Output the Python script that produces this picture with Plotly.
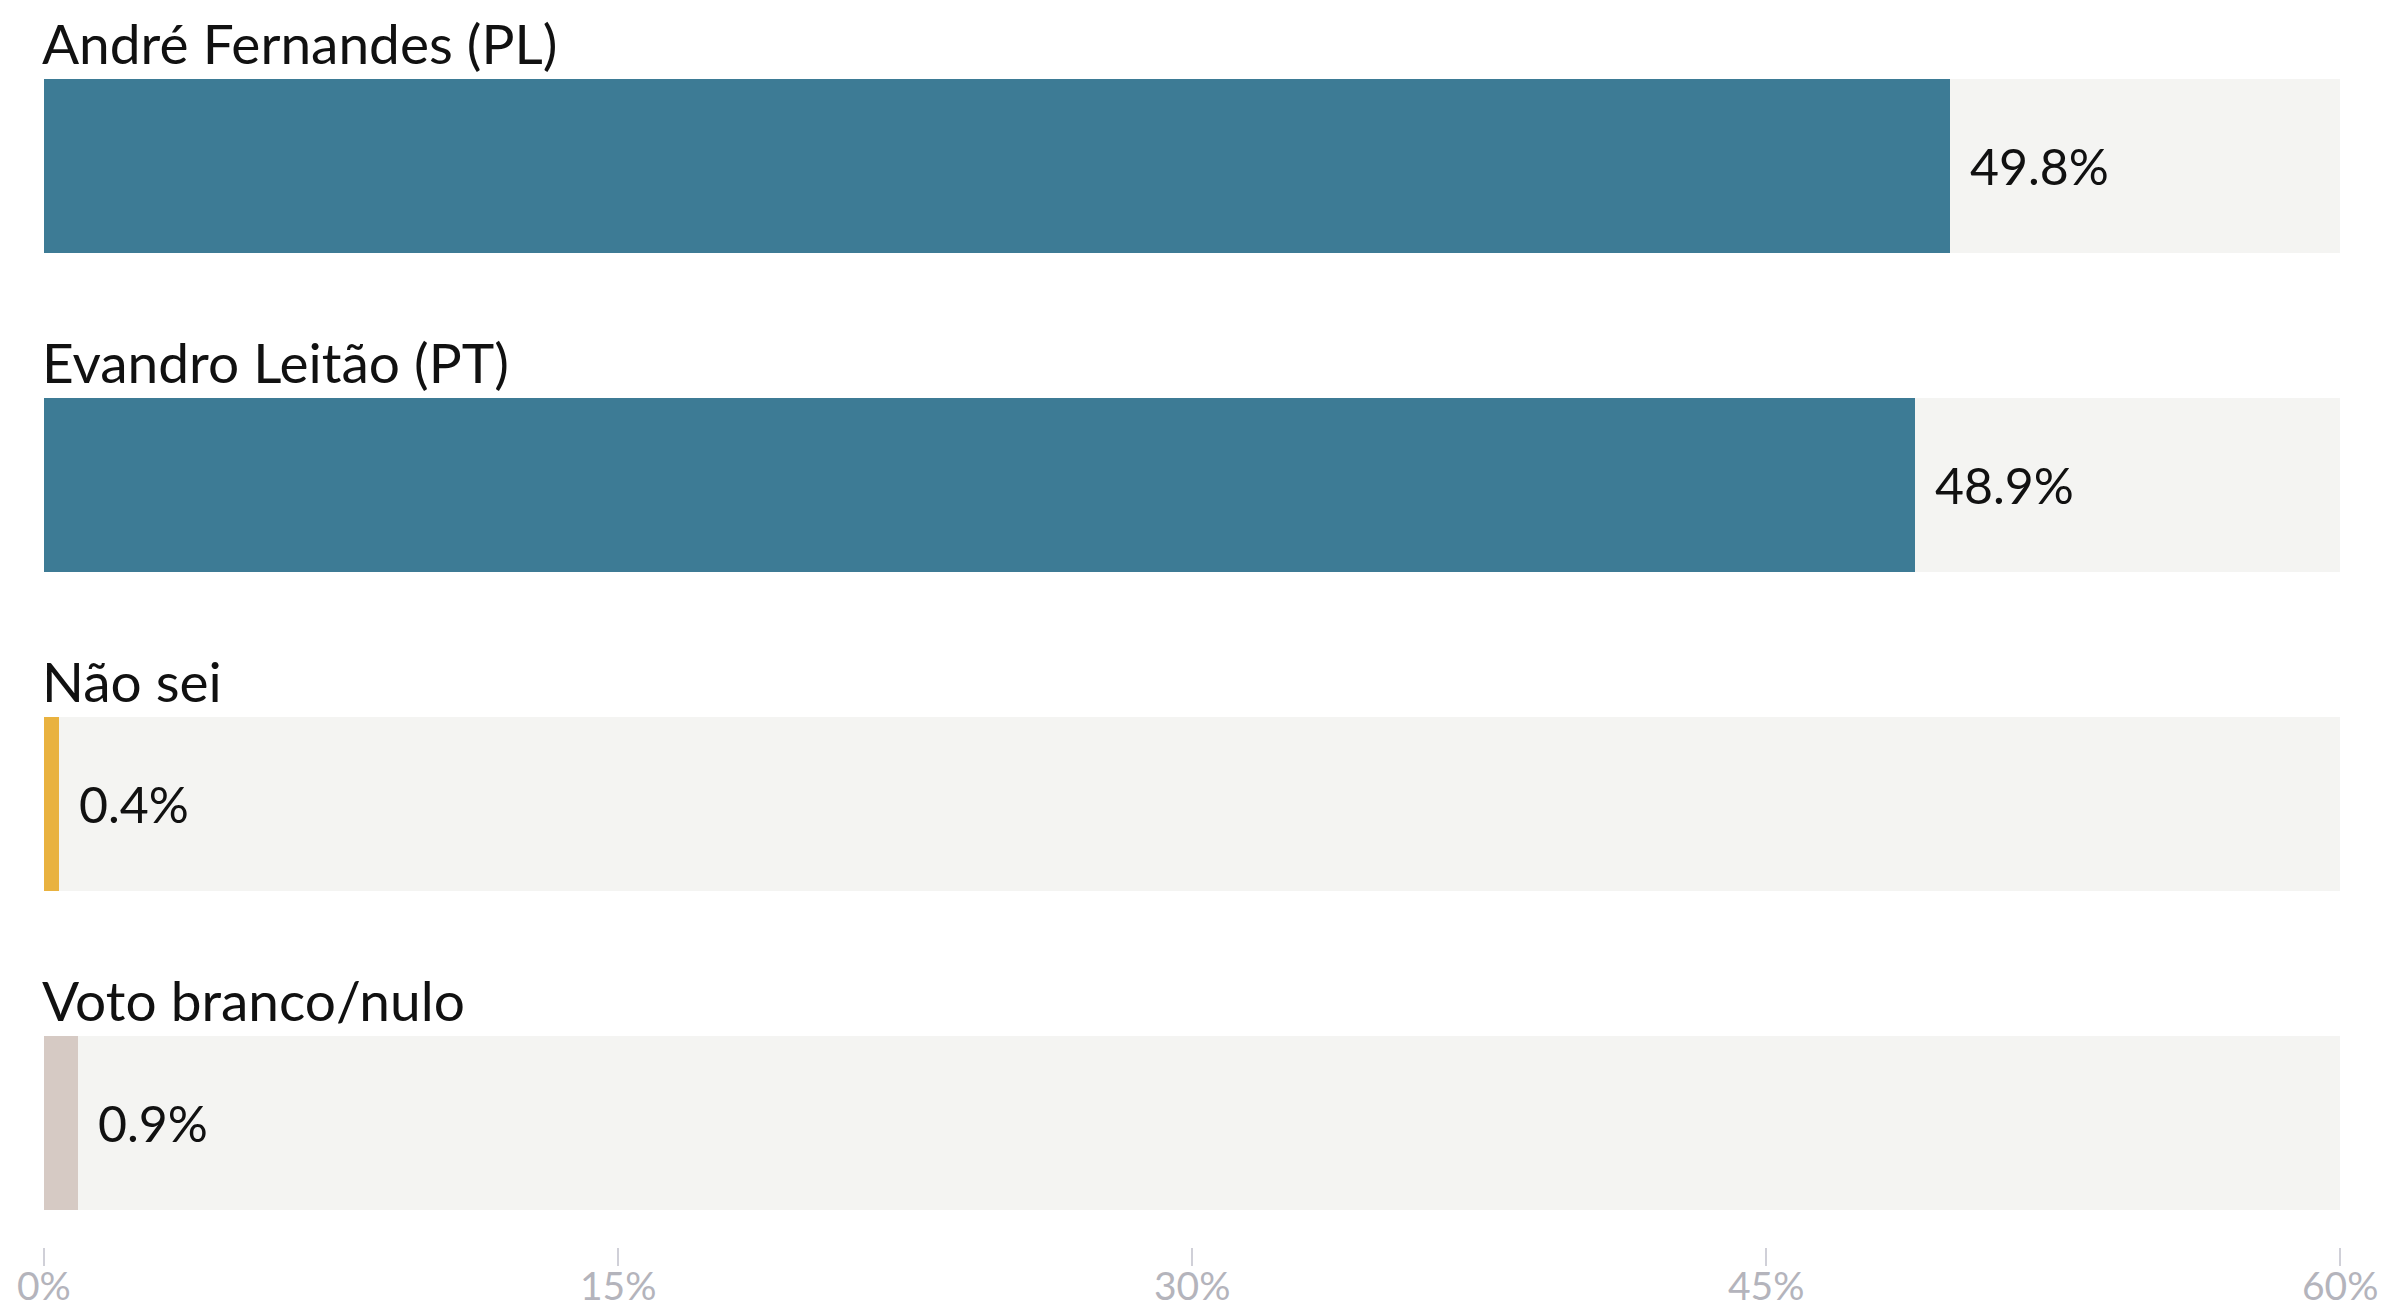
import plotly.graph_objects as go

categories = ["André Fernandes (PL)", "Evandro Leitão (PT)", "Não sei", "Voto branco/nulo"]
values = [49.8, 48.9, 0.4, 0.9]
value_labels = ["49.8%", "48.9%", "0.4%", "0.9%"]
bar_colors = ["#3d7b95", "#3d7b95", "#e9b23f", "#d6cac4"]
x_max = 60
tick_vals = [0, 15, 30, 45, 60]
tick_text = ["0%", "15%", "30%", "45%", "60%"]

positions = list(range(len(categories)))

fig = go.Figure()
fig.add_trace(go.Bar(
    y=positions, x=[x_max] * len(categories), orientation="h",
    marker=dict(color="#f4f4f2", line=dict(width=0)), width=0.545,
    hoverinfo="skip", showlegend=False,
))
fig.add_trace(go.Bar(
    y=positions, x=values, orientation="h",
    marker=dict(color=bar_colors, line=dict(width=0)), width=0.545,
    hoverinfo="skip", showlegend=False,
))

annotations = []
for p, cat, v, lab in zip(positions, categories, values, value_labels):
    annotations.append(dict(
        x=0, y=p, xref="x", yref="y", text=cat, showarrow=False,
        xanchor="left", yanchor="middle", yshift=123, xshift=-3,
        borderpad=0,
        font=dict(family="Lato", size=55, color="#111111"),
    ))
    annotations.append(dict(
        x=v, y=p, xref="x", yref="y", text=lab, showarrow=False,
        xanchor="left", yanchor="middle", xshift=18,
        font=dict(family="Lato", size=50, color="#111111"),
    ))

# tick labels placed as text just under the tick marks
for tv, tt in zip(tick_vals, tick_text):
    annotations.append(dict(
        x=tv, y=0, xref="x", yref="paper", text=tt, showarrow=False,
        xanchor="center", yanchor="middle", yshift=-38,
        font=dict(family="Lato", size=39, color="#b4b4bc"),
    ))

fig.update_layout(
    width=2390, height=1308,
    margin=dict(l=36, r=58, t=12, b=69, autoexpand=False),
    paper_bgcolor="white", plot_bgcolor="white",
    barmode="overlay", bargap=0,
    hovermode=False,
    annotations=annotations,
    xaxis=dict(
        range=[0, x_max], tickvals=tick_vals, showticklabels=False,
        showgrid=False, zeroline=False, showline=False, automargin=False,
        ticks="outside", ticklen=18, tickwidth=2, tickcolor="#d0d0d8",
        fixedrange=True,
    ),
    yaxis=dict(
        range=[3.389, -0.4577], showticklabels=False, showgrid=False,
        zeroline=False, showline=False, fixedrange=True, automargin=False,
    ),
)

fig.write_html("out.html")
